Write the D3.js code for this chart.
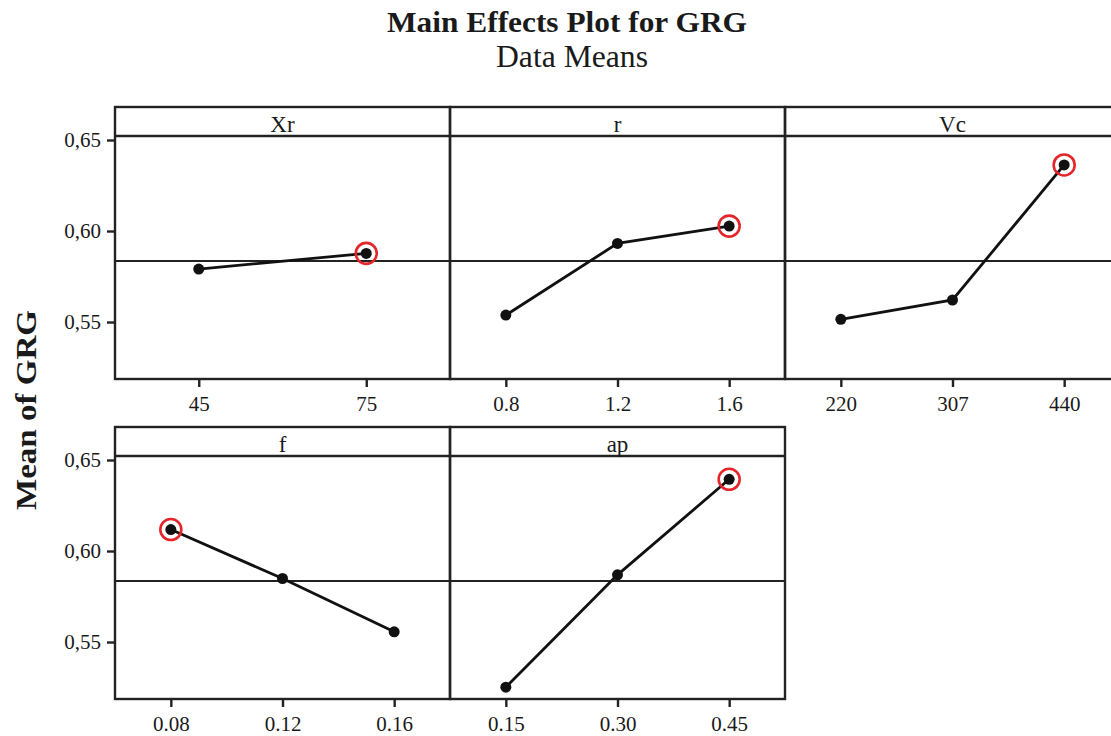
<!DOCTYPE html>
<html>
<head>
<meta charset="utf-8">
<script src="https://cdn.jsdelivr.net/npm/d3@7"></script>
<style>
  body { margin: 0; background: #fff; }
  svg { display: block; font-family: "Liberation Serif", "DejaVu Serif", serif; }
</style>
</head>
<body>
<div id="app"></div>
<script>
// Chart data
const factors = ["Xr", "r", "Vc", "f", "ap"];
const levels = [
  ["45", "75"],
  ["0.8", "1.2", "1.6"],
  ["220", "307", "440"],
  ["0.08", "0.12", "0.16"],
  ["0.15", "0.30", "0.45"]
];
const means = [
  [0.5791, 0.5877],
  [0.5538, 0.5932, 0.6027],
  [0.5515, 0.5621, 0.6363],
  [0.6118, 0.5849, 0.5556],
  [0.5252, 0.5869, 0.6394]
];
const grandMean = 0.5835;
const yTicks = [0.55, 0.60, 0.65];

const width = 1111, height = 736;
const svg = d3.select("#app").append("svg")
  .attr("width", width)
  .attr("height", height);

// panel layout: 3 per row
const left = 115, panelW = 335, headerH = 29, plotH = 243;
const rowTops = [107, 427];
const yDomain = [0.5187, 0.6522];
const fmt = d => d3.format(".2f")(d).replace(".", ",");
const ink = "#1a1a1a";

// Titles
svg.append("text")
  .attr("x", 567).attr("y", 32)
  .attr("text-anchor", "middle")
  .attr("font-size", 30).attr("font-weight", "bold")
  .attr("textLength", 360).attr("lengthAdjust", "spacingAndGlyphs")
  .attr("fill", ink)
  .text("Main Effects Plot for GRG");
svg.append("text")
  .attr("x", 572).attr("y", 67)
  .attr("text-anchor", "middle")
  .attr("font-size", 32)
  .attr("textLength", 152).attr("lengthAdjust", "spacingAndGlyphs")
  .attr("fill", ink)
  .text("Data Means");

// Y axis title
svg.append("text")
  .attr("transform", "translate(36,410) rotate(-90)")
  .attr("text-anchor", "middle")
  .attr("font-size", 30).attr("font-weight", "bold")
  .attr("textLength", 200).attr("lengthAdjust", "spacingAndGlyphs")
  .attr("fill", ink)
  .text("Mean of GRG");

factors.forEach((name, i) => {
  const row = Math.floor(i / 3), col = i % 3;
  const x0 = left + col * panelW;
  const top = rowTops[row];
  const plotTop = top + headerH, plotBottom = plotTop + plotH;

  const x = d3.scalePoint()
    .domain(levels[i])
    .range([x0, x0 + panelW])
    .padding(0.5);
  const y = d3.scaleLinear()
    .domain(yDomain)
    .range([plotBottom, plotTop]);

  const g = svg.append("g");

  // grand mean reference line
  g.append("line")
    .attr("x1", x0).attr("x2", x0 + panelW)
    .attr("y1", y(grandMean)).attr("y2", y(grandMean))
    .attr("stroke", "#222").attr("stroke-width", 2);

  // panel frame and header strip
  g.append("rect")
    .attr("x", x0).attr("y", top)
    .attr("width", panelW).attr("height", headerH + plotH)
    .attr("fill", "none").attr("stroke", "#222").attr("stroke-width", 2.4);
  g.append("line")
    .attr("x1", x0).attr("x2", x0 + panelW)
    .attr("y1", plotTop).attr("y2", plotTop)
    .attr("stroke", "#222").attr("stroke-width", 2.4);
  g.append("text")
    .attr("x", x0 + panelW / 2).attr("y", top + 25)
    .attr("text-anchor", "middle")
    .attr("font-size", 23).attr("fill", ink)
    .text(name);

  // x axis
  const xAxis = g.append("g")
    .attr("transform", `translate(0,${plotBottom})`)
    .call(d3.axisBottom(x).tickSize(8).tickPadding(9));
  xAxis.select(".domain").remove();
  xAxis.selectAll("line").attr("stroke", "#222").attr("stroke-width", 2.4);
  xAxis.selectAll("text")
    .attr("font-family", "Liberation Serif, serif")
    .attr("font-size", 21).attr("fill", ink);

  // y axis on first panel of each row
  if (col === 0) {
    const yAxis = g.append("g")
      .attr("transform", `translate(${x0},0)`)
      .call(d3.axisLeft(y).tickValues(yTicks).tickFormat(fmt).tickSize(8).tickPadding(6));
    yAxis.select(".domain").remove();
    yAxis.selectAll("line").attr("stroke", "#222").attr("stroke-width", 2.4);
    yAxis.selectAll("text")
      .attr("font-family", "Liberation Serif, serif")
      .attr("font-size", 21).attr("fill", ink);
  }

  const pts = levels[i].map((lv, k) => ({ lv, v: means[i][k] }));

  // effect line
  g.append("path")
    .datum(pts)
    .attr("fill", "none")
    .attr("stroke", "#111").attr("stroke-width", 2.8)
    .attr("d", d3.line().x(d => x(d.lv)).y(d => y(d.v)));

  g.selectAll(".pt").data(pts).enter().append("circle")
    .attr("cx", d => x(d.lv)).attr("cy", d => y(d.v))
    .attr("r", 5.5).attr("fill", "#111");

  // highlight the best level
  const best = pts[d3.maxIndex(pts, d => d.v)];
  g.append("circle")
    .attr("cx", x(best.lv)).attr("cy", y(best.v))
    .attr("r", 10.5)
    .attr("fill", "none").attr("stroke", "#e4262b").attr("stroke-width", 2.6);
});
</script>
</body>
</html>
